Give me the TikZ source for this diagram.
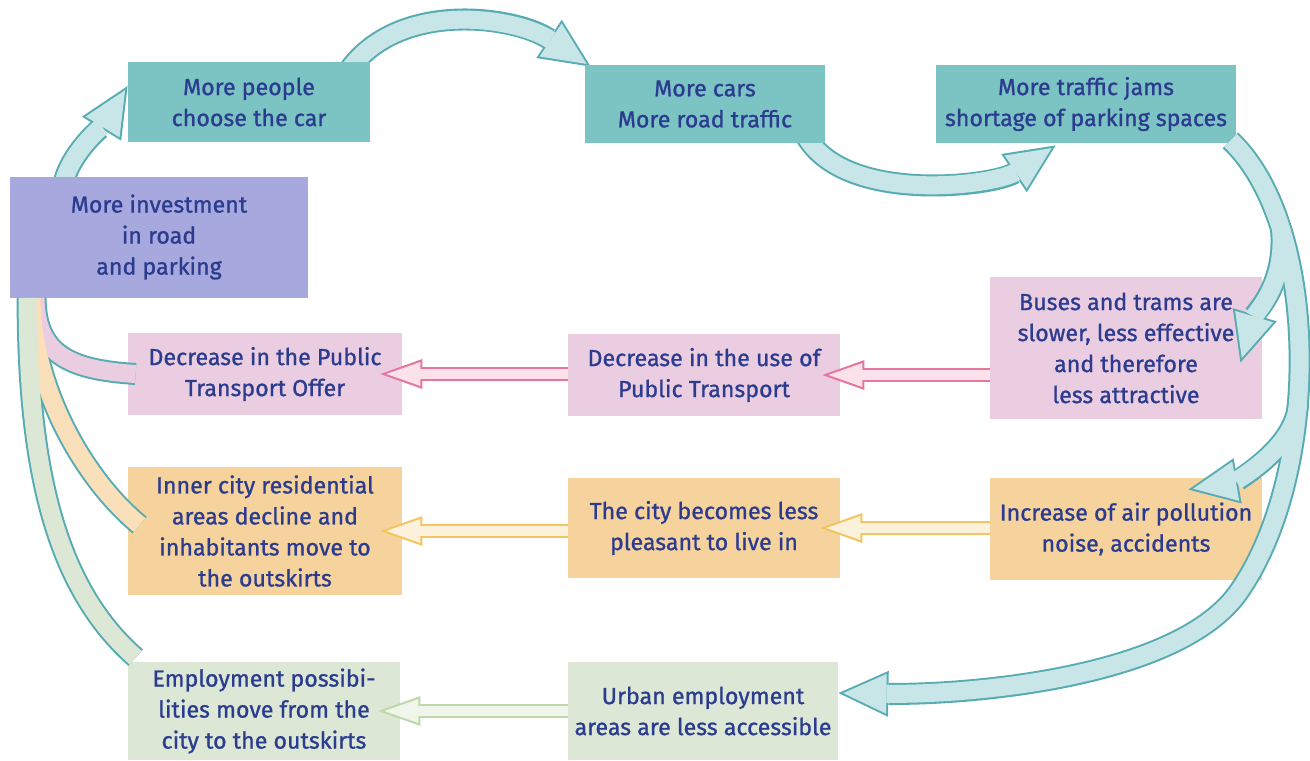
\documentclass[tikz,border=0pt]{standalone}
\usepackage{fontspec}
\setmainfont[FakeBold=1]{Fira Sans}
\usetikzlibrary{arrows.meta,backgrounds}

\definecolor{inkblue}{RGB}{43,60,143}
\definecolor{tealbox}{RGB}{124,195,196}
\definecolor{violetbox}{RGB}{167,168,221}
\definecolor{pinkbox}{RGB}{235,205,226}
\definecolor{orangebox}{RGB}{246,210,156}
\definecolor{greenbox}{RGB}{220,231,213}
\definecolor{bandedge}{RGB}{86,172,178}
\definecolor{tealfill}{RGB}{200,230,232}
\definecolor{pinkedge}{RGB}{230,118,160}
\definecolor{orangeedge}{RGB}{243,196,96}
\definecolor{greenedge}{RGB}{190,216,168}

\tikzset{
  box/.style={fill=#1, inner sep=0pt, align=center, text=inkblue, font=\fontsize{11.6}{15.5}\selectfont},
  rim/.style={draw=bandedge, line width=11pt, -{Triangle[length=25pt,width=23pt,line width=0pt]}},
  core/.style={draw=#1, line width=9pt, -{Triangle[length=21.6pt,width=19.9pt,line width=0pt,sep=2.4pt]}},
  slimrim/.style={draw=#1, line width=7pt, -{Triangle[length=21pt,width=15pt,line width=0pt]}},
  slimcore/.style={draw=#1!22, line width=5pt, -{Triangle[length=17pt,width=12pt,line width=0pt,sep=3pt]}}
}

\begin{document}
\begin{tikzpicture}[x=0.5pt, y=-0.5pt]
\useasboundingbox (0,0) rectangle (1310,760);

% car loop
\node[box=tealbox, minimum width=121pt, minimum height=40pt] (people) at (249,102) {More people\\choose the car};
\node[box=tealbox, minimum width=120pt, minimum height=39pt] (cars) at (705,104) {More cars\\More road traffic};
\node[box=tealbox, minimum width=150pt, minimum height=39pt] (jams) at (1086,104) {More traffic jams\\shortage of parking spaces};
\node[box=violetbox, minimum width=149pt, minimum height=60.5pt] (invest) at (159,237) {More investment\\in road\\and parking};

% public transport
\node[box=pinkbox, minimum width=136pt, minimum height=71pt] (buses) at (1126,348) {Buses and trams are\\slower, less effective\\and therefore\\less attractive};
\node[box=pinkbox, minimum width=136pt, minimum height=41pt] (useof) at (704,375) {Decrease in the use of\\Public Transport};
\node[box=pinkbox, minimum width=137pt, minimum height=41pt] (offer) at (265,374) {Decrease in the Public\\Transport Offer};

% living
\node[box=orangebox, minimum width=136pt, minimum height=51pt] (pollution) at (1126,529) {Increase of air pollution\\noise, accidents};
\node[box=orangebox, minimum width=136pt, minimum height=50pt] (pleasant) at (704,528) {The city becomes less\\pleasant to live in};
\node[box=orangebox, minimum width=137pt, minimum height=64pt] (inner) at (265,531) {Inner city residential\\areas decline and\\inhabitants move to\\the outskirts};

% jobs
\node[box=greenbox, minimum width=135pt, minimum height=49pt] (urban) at (703,711) {Urban employment\\areas are less accessible};
\node[box=greenbox, minimum width=136pt, minimum height=49pt] (employ) at (264,711) {Employment possibi-\\lities move from the\\city to the outskirts};

% bands coming out from behind the boxes
\begin{pgfonlayer}{background}
\foreach \layer in {rim,core}{
  \draw[\layer=tealfill] ([xshift=27pt,yshift=-4pt]invest.north west) .. controls +(5,-30) and +(-22,36) .. ([yshift=8pt]people.west);
  \draw[\layer=tealfill] ([xshift=-12pt,yshift=-6pt]people.north east) .. controls +(50,-75) and +(-75,-50) .. ([xshift=3pt,yshift=-1pt]cars.north west);
  \draw[\layer=tealfill] ([xshift=-10pt,yshift=4pt]cars.south east) .. controls +(40,70) and +(-60,40) .. ([xshift=60pt,yshift=-1pt]jams.south west);
}
\end{pgfonlayer}

% big arc on the right
\coordinate (fork1) at (1281,229);
\coordinate (fork2) at (1298,404);
\foreach \layer in {rim,core}{
  \draw[\layer=tealfill] ([xshift=-3pt,yshift=1.5pt]jams.south east) .. controls (1320,225) and (1322,470) .. (1240,590) .. controls (1180,680) and (960,695) .. ([yshift=9pt]urban.east);
  \draw[\layer=tealfill] (fork1) .. controls +(5,55) and +(15,-50) .. ([xshift=-11pt,yshift=-43pt]buses.north east);
  \draw[\layer=tealfill] (fork2) .. controls +(-3,45) and +(45,-8) .. ([xshift=-37pt,yshift=-6pt]pollution.north east);
}

% rows
\foreach \layer in {rim,core}{
  \draw[slim\layer=pinkedge] (useof.east -| buses.west) -- ([xshift=-9pt]useof.east);
  \draw[slim\layer=pinkedge] (offer.east -| useof.west) -- ([xshift=-11pt]offer.east);
  \draw[slim\layer=orangeedge] (pleasant.east -| pollution.west) -- ([xshift=-10pt]pleasant.east);
  \draw[slim\layer=orangeedge] (inner.east -| pleasant.west) -- ([xshift=-11pt]inner.east);
  \draw[slim\layer=greenedge] (employ.east -| urban.west) -- ([xshift=-11pt]employ.east);
}

% back to the investment box
\foreach \layer in {rim,core}{
  \draw[\layer=pinkbox, -] ([xshift=4pt]offer.west) .. controls +(-60,-4) and +(0,60) .. ([xshift=13pt]invest.south west);
  \draw[\layer=orangebox!70, -] ([xshift=6pt,yshift=3pt]inner.west) .. controls +(-55,-45) and +(0,90) .. ([xshift=11pt]invest.south west);
  \draw[\layer=greenbox, -] ([xshift=4pt,yshift=2pt]employ.north west) .. controls +(-80,-70) and +(0,170) .. ([xshift=9pt]invest.south west);
}
\end{tikzpicture}
\end{document}
